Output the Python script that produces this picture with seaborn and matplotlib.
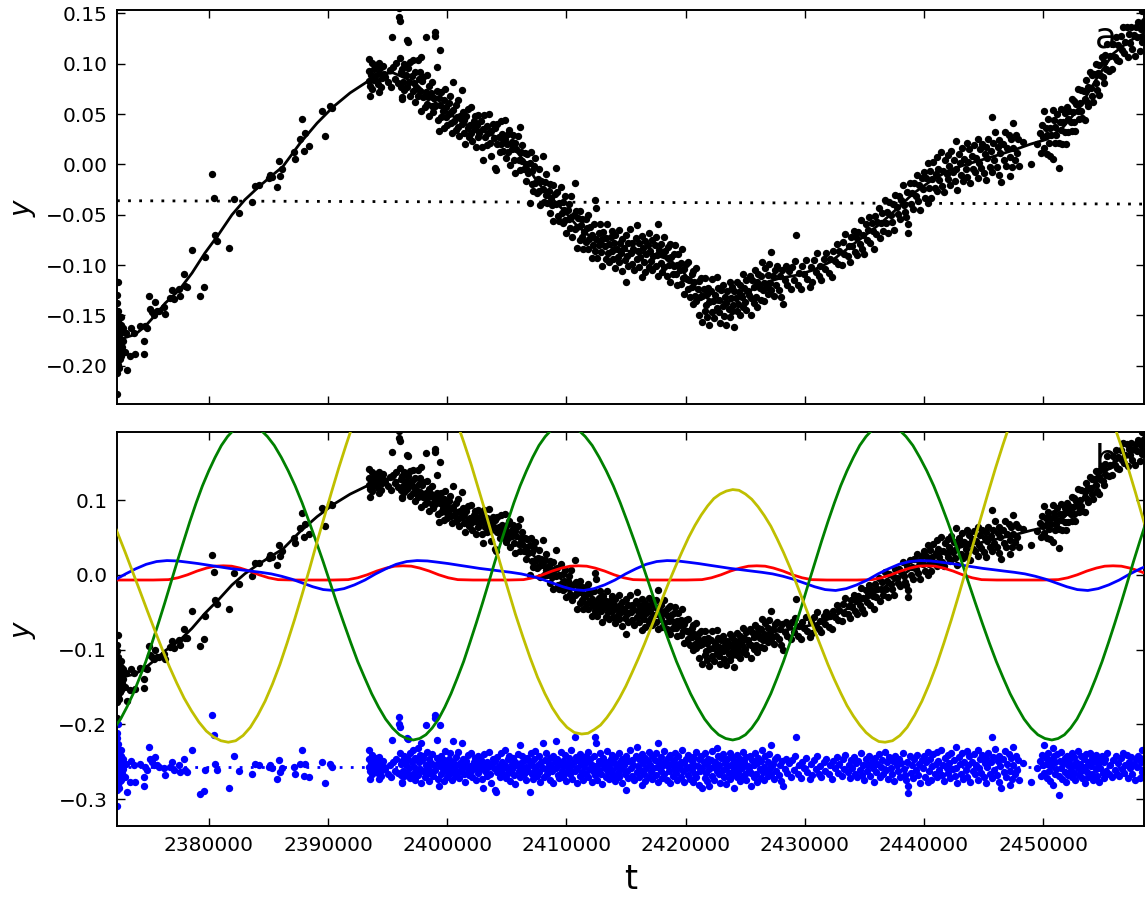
import numpy as np
import matplotlib
matplotlib.use("Agg")
import matplotlib.pyplot as plt
from matplotlib.ticker import MultipleLocator, ScalarFormatter
import seaborn as sns

# all times are in units of 100 days after T0
T0 = 2370000
T_RANGE = [22.8, 884.7]

# fitted model (black line, panel a)
fit_u = [22.8, 27.0, 37.9, 46.3, 54.7, 63.1, 74.8, 85.7, 96.6, 108.4,
         119.3, 130.2, 142.0, 152.9, 162.1, 176.4, 190.7, 204.1, 218.4, 232.6,
         246.0, 254.4, 266.2, 274.6, 285.5, 299.8, 313.2, 327.5, 341.8, 355.2,
         363.5, 375.3, 386.2, 397.1, 408.9, 422.3, 439.1, 455.9, 472.7, 487.0,
         497.9, 509.6, 518.0, 526.5, 537.3, 551.6, 565.0, 579.3, 593.5, 607.0,
         621.2, 635.5, 648.9, 663.2, 677.4, 690.9, 705.1, 719.4, 732.8, 747.1,
         761.4, 774.8, 789.1, 803.3, 816.8, 831.0, 845.3, 858.8, 873.0, 884.7]
fit_y = [-0.176, -0.173, -0.169, -0.161, -0.150, -0.138, -0.125, -0.108, -0.088, -0.069,
         -0.050, -0.035, -0.022, -0.011, -0.002, 0.021, 0.041, 0.057, 0.071, 0.082,
         0.090, 0.091, 0.085, 0.079, 0.066, 0.052, 0.041, 0.034, 0.027, 0.017,
         0.005, -0.017, -0.032, -0.045, -0.061, -0.074, -0.083, -0.087, -0.089, -0.095,
         -0.107, -0.124, -0.133, -0.137, -0.136, -0.127, -0.118, -0.113, -0.110, -0.105,
         -0.097, -0.084, -0.072, -0.059, -0.044, -0.029, -0.017, -0.007, -0.001, 0.004,
         0.009, 0.014, 0.020, 0.025, 0.037, 0.057, 0.086, 0.110, 0.123, 0.130]

# linear trend (dotted line, panel a)
trend_u = [22.8, 884.7]
trend_y = [-0.0361, -0.0394]

# periodic components (panel b)
green_u = [15.3, 20.6, 25.8, 31.1, 36.4, 41.7, 47.0, 52.2, 57.5, 62.8, 68.1, 73.4,
           78.7, 83.9, 89.2, 94.5, 99.8, 105.1, 110.4, 115.6, 120.9, 126.2, 131.5,
           137.3, 143.2, 149.0, 154.8, 160.7, 166.5, 172.3, 178.2, 184.0, 189.8, 195.7, 201.5,
           207.3, 213.2, 219.0, 224.8, 230.7, 236.5, 242.3, 248.2, 254.0, 259.8, 265.7, 271.5,
           276.8, 282.0, 287.3, 292.6, 297.9, 303.1, 308.4, 313.7, 318.9, 324.2, 329.5, 334.8,
           340.0, 345.3, 350.6, 355.8, 361.1, 366.4, 371.6, 376.9, 382.2, 387.5, 392.7, 398.0,
           403.9, 409.8, 415.7, 421.6, 427.5, 433.4, 439.3, 445.2, 451.1, 457.0, 462.9, 468.8,
           474.6, 480.5, 486.4, 492.3, 498.2, 504.1, 510.0, 515.9, 521.8, 527.7, 533.6, 539.5,
           544.8, 550.2, 555.5, 560.8, 566.1, 571.5, 576.8, 582.1, 587.5, 592.8, 598.1, 603.4,
           608.8, 614.1, 619.4, 624.8, 630.1, 635.4, 640.8, 646.1, 651.4, 656.7, 662.1, 667.4,
           673.2, 679.1, 684.9, 690.7, 696.5, 702.4, 708.2, 714.0, 719.9, 725.7, 731.5, 737.3,
           743.2, 749.0, 754.8, 760.7, 766.5, 772.3, 778.2, 784.0, 789.8, 795.6, 801.5, 807.3,
           812.6, 817.9, 823.1, 828.4, 833.7, 839.0, 844.3, 849.5, 854.8, 860.1, 865.4, 870.7,
           875.9, 881.2, 886.5]
green_y = [-0.214, -0.205, -0.193, -0.177, -0.159, -0.138, -0.116, -0.091, -0.065, -0.038, -0.010, 0.018,
           0.045, 0.071, 0.096, 0.119, 0.139, 0.157, 0.173, 0.185, 0.194, 0.199, 0.201,
           0.199, 0.194, 0.185, 0.173, 0.157, 0.139, 0.119, 0.096, 0.071, 0.045, 0.018, -0.010,
           -0.038, -0.065, -0.091, -0.116, -0.138, -0.159, -0.177, -0.193, -0.205, -0.214, -0.219, -0.221,
           -0.219, -0.214, -0.205, -0.193, -0.177, -0.159, -0.138, -0.116, -0.091, -0.065, -0.038, -0.010,
           0.018, 0.045, 0.071, 0.096, 0.119, 0.139, 0.157, 0.173, 0.185, 0.194, 0.199, 0.201,
           0.199, 0.194, 0.185, 0.173, 0.157, 0.139, 0.119, 0.096, 0.071, 0.045, 0.018, -0.010,
           -0.038, -0.065, -0.091, -0.116, -0.138, -0.159, -0.177, -0.193, -0.205, -0.214, -0.219, -0.221,
           -0.219, -0.214, -0.205, -0.193, -0.177, -0.159, -0.138, -0.116, -0.091, -0.065, -0.038, -0.010,
           0.018, 0.045, 0.071, 0.096, 0.119, 0.139, 0.157, 0.173, 0.185, 0.194, 0.199, 0.201,
           0.199, 0.194, 0.185, 0.173, 0.157, 0.139, 0.119, 0.096, 0.071, 0.045, 0.018, -0.010,
           -0.038, -0.065, -0.091, -0.116, -0.138, -0.159, -0.177, -0.193, -0.205, -0.214, -0.219, -0.221,
           -0.219, -0.214, -0.205, -0.193, -0.177, -0.159, -0.138, -0.116, -0.091, -0.065, -0.038, -0.010,
           0.018, 0.045, 0.071]

yellow_u = [11.2, 17.3, 23.5, 29.7, 35.9, 42.1, 48.2, 54.4, 60.6, 66.8, 73.0, 79.1,
            85.3, 91.5, 97.7, 103.9, 110.0, 116.2,
            122.4, 128.6, 134.7, 140.9, 147.1, 153.3, 159.5, 165.6, 171.8, 178.0, 184.2, 190.3,
            196.5, 202.7, 208.9, 215.1, 221.2, 227.4, 233.6, 239.8, 246.0, 252.1, 258.3, 264.5,
            270.7, 276.9, 283.0, 289.2, 295.4, 301.6, 307.8, 313.9, 320.1, 326.3, 332.5, 338.6,
            344.8, 351.0, 357.2, 363.4, 369.5, 375.7, 381.9, 388.1, 394.3, 400.4, 406.6, 412.8,
            418.1, 423.4, 428.6, 433.9, 439.2, 444.5, 449.8, 455.0, 460.3, 465.6, 470.9, 476.1,
            481.4, 486.7, 492.0, 497.3, 502.5, 507.8, 513.1, 518.4, 523.7, 528.9, 534.2, 539.5,
            544.8, 550.2, 555.5, 560.8, 566.1, 571.5, 576.8, 582.1, 587.5, 592.8, 598.1, 603.4,
            608.8, 614.1, 619.4, 624.8, 630.1, 635.4, 640.8, 646.1, 651.4, 656.7, 662.1, 667.4,
            673.6, 679.8, 685.9, 692.1, 698.3, 704.5, 710.7, 716.8, 723.0, 729.2, 735.4, 741.5,
            747.7, 753.9, 760.1, 766.3, 772.4, 778.6, 784.8, 791.0, 797.2, 803.3, 809.5, 815.7,
            821.9, 828.1, 834.2, 840.4, 846.6, 852.8, 859.0, 865.1, 871.3, 877.5, 883.7, 889.8]
yellow_y = [0.101, 0.079, 0.055, 0.030, 0.004, -0.022, -0.048, -0.074, -0.099, -0.123, -0.145, -0.165,
            -0.182, -0.197, -0.209, -0.217, -0.222, -0.224,
            -0.222, -0.215, -0.204, -0.188, -0.169, -0.146, -0.120, -0.091, -0.060, -0.027, 0.007, 0.042,
            0.076, 0.110, 0.143, 0.174, 0.203, 0.229, 0.252, 0.271, 0.287, 0.298, 0.305, 0.307,
            0.305, 0.298, 0.287, 0.272, 0.253, 0.231, 0.205, 0.177, 0.147, 0.114, 0.081, 0.047,
            0.013, -0.020, -0.053, -0.083, -0.111, -0.137, -0.159, -0.178, -0.193, -0.204, -0.211, -0.213,
            -0.212, -0.207, -0.201, -0.191, -0.179, -0.165, -0.149, -0.131, -0.112, -0.092, -0.071, -0.050,
            -0.028, -0.007, 0.013, 0.032, 0.050, 0.066, 0.080, 0.092, 0.102, 0.108, 0.112, 0.114,
            0.113, 0.108, 0.101, 0.091, 0.079, 0.065, 0.048, 0.030, 0.010, -0.011, -0.033, -0.055,
            -0.077, -0.099, -0.120, -0.140, -0.158, -0.175, -0.189, -0.201, -0.211, -0.218, -0.223, -0.224,
            -0.222, -0.215, -0.204, -0.188, -0.169, -0.146, -0.120, -0.091, -0.060, -0.027, 0.007, 0.042,
            0.076, 0.110, 0.143, 0.174, 0.203, 0.229, 0.252, 0.271, 0.287, 0.298, 0.305, 0.307,
            0.305, 0.298, 0.287, 0.271, 0.252, 0.229, 0.203, 0.174, 0.143, 0.110, 0.076, 0.042]

red_u = [22.8,
         53.2, 66.0, 74.0, 82.0, 90.0, 98.0, 105.0, 112.0, 119.0, 126.0, 134.0, 142.0, 150.0, 158.0, 170.8,
         204.0, 216.8, 224.8, 232.8, 240.8, 248.8, 255.8, 262.8, 269.8, 276.8, 284.8, 292.8, 300.8, 308.8, 321.6,
         351.2, 364.0, 372.0, 380.0, 388.0, 396.0, 403.0, 410.0, 417.0, 424.0, 432.0, 440.0, 448.0, 456.0, 468.8,
         500.9, 513.7, 521.7, 529.7, 537.7, 545.7, 552.7, 559.7, 566.7, 573.7, 581.7, 589.7, 597.7, 605.7, 618.5,
         643.6, 656.4, 664.4, 672.4, 680.4, 688.4, 695.4, 702.4, 709.4, 716.4, 724.4, 732.4, 740.4, 748.4, 761.2,
         799.9, 812.7, 820.7, 828.7, 836.7, 844.7, 851.7, 858.7, 865.7, 872.7, 880.7, 888.7]
red_y = [-0.007,
         -0.007, -0.0065, -0.004, 0.0, 0.005, 0.009, 0.0115, 0.012, 0.0115, 0.009, 0.005, 0.0, -0.004, -0.0065, -0.007,
         -0.007, -0.0065, -0.004, 0.0, 0.005, 0.009, 0.0115, 0.012, 0.0115, 0.009, 0.005, 0.0, -0.004, -0.0065, -0.007,
         -0.007, -0.0065, -0.004, 0.0, 0.005, 0.009, 0.0115, 0.012, 0.0115, 0.009, 0.005, 0.0, -0.004, -0.0065, -0.007,
         -0.007, -0.0065, -0.004, 0.0, 0.005, 0.009, 0.0115, 0.012, 0.0115, 0.009, 0.005, 0.0, -0.004, -0.0065, -0.007,
         -0.007, -0.0065, -0.004, 0.0, 0.005, 0.009, 0.0115, 0.012, 0.0115, 0.009, 0.005, 0.0, -0.004, -0.0065, -0.007,
         -0.007, -0.0065, -0.004, 0.0, 0.005, 0.009, 0.0115, 0.012, 0.0115, 0.009, 0.005, 0.0]

blue_u = [12.3, 21.0, 29.8, 38.5, 47.3, 56.0,
          64.7, 73.4, 82.2, 90.9, 99.7, 108.4, 117.2, 125.9, 134.7, 143.4, 152.2, 160.9,
          169.7, 178.4, 187.1, 195.9, 204.6, 213.4, 222.1, 230.9, 239.6, 248.4, 257.1, 265.9,
          274.6, 283.3, 292.1, 300.8, 309.6, 318.3, 327.1, 335.8, 344.5, 353.3, 362.0, 370.8,
          379.5, 388.2, 397.0, 405.7, 414.5, 423.2, 432.0, 440.7, 449.4, 458.2, 466.9, 475.7,
          484.4, 493.2, 502.1, 510.9, 519.8, 528.6, 537.5, 546.3, 555.2, 564.0, 572.9, 581.7,
          590.6, 599.4, 608.2, 617.1, 625.9, 634.8, 643.6, 652.5, 661.3, 670.2, 679.0, 687.9,
          696.7, 705.5, 714.3, 723.1, 731.9, 740.7, 749.5, 758.3, 767.1, 775.9, 784.7, 793.5,
          802.3, 811.1, 819.9, 828.7, 837.5, 846.3, 855.1, 863.9, 872.7, 881.5, 890.3]
blue_y = [-0.0135, -0.007, 0.001, 0.008, 0.014, 0.0177,
          0.019, 0.0185, 0.0168, 0.015, 0.0128, 0.0107, 0.0085, 0.0068, 0.005, 0.0033, 0.0012, -0.002,
          -0.006, -0.011, -0.016, -0.0198, -0.021, -0.0185, -0.0135, -0.007, 0.001, 0.008, 0.014, 0.0177,
          0.019, 0.0185, 0.0168, 0.015, 0.0128, 0.0107, 0.0085, 0.0068, 0.005, 0.0033, 0.0012, -0.002,
          -0.006, -0.011, -0.016, -0.0198, -0.021, -0.0185, -0.0135, -0.007, 0.001, 0.008, 0.014, 0.0177,
          0.019, 0.0185, 0.0168, 0.015, 0.0128, 0.0107, 0.0085, 0.0068, 0.005, 0.0033, 0.0012, -0.002,
          -0.006, -0.011, -0.016, -0.0198, -0.021, -0.0185, -0.0135, -0.007, 0.001, 0.008, 0.014, 0.0177,
          0.019, 0.0185, 0.0168, 0.015, 0.0128, 0.0107, 0.0085, 0.0068, 0.005, 0.0033, 0.0012, -0.002,
          -0.006, -0.011, -0.016, -0.0198, -0.021, -0.0185, -0.0135, -0.007, 0.001, 0.008, 0.014]

# observations: time and residual from the fitted model (units of 0.001)
obs_u = [
    23.0, 23.0, 23.0, 23.0, 23.0, 23.0, 23.0, 23.0, 23.5, 23.5,
    23.5, 23.5, 23.5, 23.5, 24.0, 24.0, 24.0, 24.0, 24.0, 24.0,
    24.6, 24.6, 24.6, 24.6, 24.6, 25.2, 25.2, 25.2, 25.2, 25.8,
    25.8, 25.8, 25.8, 26.5, 26.5, 26.5, 27.3, 27.3, 28.2, 28.2,
    29.3, 30.5, 31.6, 33.7, 34.8,
    36.8, 38.2, 42.4, 45.2, 45.2, 46.6, 48.0, 49.4, 50.8, 52.2,
    53.6, 55.0, 56.4, 57.8, 62.0, 63.4, 67.5, 68.9, 70.3, 74.5,
    75.9, 78.7, 80.1, 81.5, 85.7, 92.7, 95.5, 96.9, 102.5, 103.9,
    105.3, 106.7, 116.5, 120.7, 124.9, 136.1, 138.9, 141.7, 150.1, 151.5,
    152.9, 157.1, 158.5, 159.9, 161.3, 171.1, 172.5, 176.7, 178.1, 179.5,
    180.9, 183.7, 194.9, 197.6, 201.8, 203.2,
    234, 234, 234.5, 235, 235.4, 236, 236.8, 237, 238.2, 238.8,
    239.6, 240.2, 241, 241.8, 242.4, 242.4, 243, 243.8, 244.5, 245.2,
    246, 246.6, 247.5, 250, 251.5, 252.4, 253.3, 254.5, 256, 257.2,
    258.4, 259.5, 259.8, 260, 260.6, 260.8, 261.4, 261.7,
    262, 262, 263, 264, 264, 265, 266, 266, 267, 267,
    268, 269, 269, 270, 271, 271, 272, 273, 273, 274,
    275, 275, 276, 277, 277, 278, 278, 279, 280, 280,
    281, 282, 282, 283, 283, 284, 285, 285, 286, 287,
    287, 288, 289, 290, 290, 290, 291, 291, 292, 293,
    293, 294, 294, 295, 295, 296, 297, 297, 298, 299,
    299, 300, 301, 301, 302, 303, 303, 304, 305, 305,
    306, 307, 307, 308, 309, 309, 310, 311, 312, 312,
    313, 314, 314, 315, 316, 317, 317, 318, 319, 320,
    320, 321, 322, 323, 323, 324, 325, 326, 326, 327,
    328, 329, 330, 330, 331, 332, 333, 333, 334, 335,
    336, 337, 337, 338, 339, 340, 340, 341, 342, 342,
    343, 344, 345, 345, 346, 347, 348, 348, 349, 350,
    351, 351, 352, 353, 354, 354, 355, 356, 357, 357,
    358, 359, 360, 361, 361, 362, 363, 363, 364, 365,
    366, 366, 367, 368, 369, 369, 370, 371, 371, 372,
    373, 374, 374, 375, 376, 377, 377, 378, 379, 380,
    380, 381, 382, 383, 383, 384, 385, 386, 386, 387,
    388, 389, 389, 390, 391, 391, 392, 393, 394, 394,
    395, 396, 397, 397, 398, 399, 399, 400, 401, 402,
    402, 403, 404, 404, 405, 406, 407, 407, 408, 409,
    409, 410, 411, 411, 412, 413, 413, 414, 415, 416,
    416, 417, 418, 418, 419, 420, 421, 421, 422, 423,
    424, 424, 425, 425, 426, 427, 427, 428, 429, 430,
    430, 431, 432, 433, 433, 434, 435, 436, 436, 437,
    438, 438, 439, 440, 441, 441, 442, 443, 444, 444,
    445, 446, 447, 447, 448, 449, 450, 450, 451, 452,
    452, 453, 454, 455, 455, 456, 457, 458, 459, 459,
    460, 461, 461, 462, 463, 463, 464, 465, 466, 466,
    467, 468, 469, 469, 470, 471, 472, 472, 473, 474,
    475, 475, 476, 477, 477, 478, 479, 479, 480, 481,
    482, 482, 483, 484, 485, 485, 486, 487, 487, 488,
    489, 490, 490, 491, 492, 493, 493, 494, 495, 496,
    496, 497, 498, 499, 499, 500, 501, 502, 502, 503,
    504, 505, 505, 506, 506, 507, 508, 509, 509, 510,
    511, 511, 512, 513, 514, 514, 515, 516, 516, 517,
    518, 518, 519, 520, 520, 521, 522, 522, 523, 524,
    525, 526, 526, 527, 528, 528, 529, 530, 531, 531,
    532, 533, 534, 534, 535, 536, 537, 537, 538, 539,
    539, 540, 541, 541, 542, 543, 543, 544, 545, 546,
    546, 547, 548, 548, 549, 550, 551, 551, 552, 553,
    554, 555, 555, 556, 557, 557, 558, 559, 560, 560,
    561, 562, 563, 563, 564, 565, 566, 566, 567, 568,
    569, 569, 570, 571, 572, 572, 573, 574, 575, 576,
    577, 578, 579, 580, 581, 582, 583, 584, 585, 587,
    588, 589, 591, 592, 593, 594, 595, 597, 598, 599,
    601, 602, 604, 605, 606, 608, 609, 610, 612, 613,
    614, 616, 617, 618, 620, 621, 623, 624, 625, 627,
    628, 629, 631, 632, 633, 634, 636, 637, 638, 639,
    640, 641, 642, 643, 644, 645, 646, 647, 648, 649,
    650, 651, 652, 653, 654, 655, 656, 657, 658, 659,
    660, 661, 662, 663, 664, 665, 666, 667, 668, 669,
    670, 671, 672, 673, 674, 675, 676, 677, 678, 679,
    680, 681, 682, 683, 684, 685, 686, 687, 687, 688,
    689, 690, 691, 692, 693, 694, 695, 696, 697, 698,
    699, 700, 701, 702, 703, 703, 704, 705, 706, 707,
    708, 709, 710, 711, 711, 712, 713, 714, 715, 716,
    717, 718, 719, 720, 720, 721, 722, 723, 724, 725,
    726, 727, 727, 728, 729, 730, 731, 732, 733, 734,
    735, 736, 736, 737, 738, 739, 740, 741, 742, 743,
    744, 745, 745, 746, 747, 748, 749, 750, 751, 752,
    752, 753, 754, 755, 756, 757, 757, 758, 759, 760,
    761, 762, 763, 763, 764, 765, 766, 767, 768, 769,
    770, 771, 772, 772, 773, 774, 775, 775, 776, 777,
    778, 779, 780, 783, 790, 795, 797, 798, 799, 800,
    801, 801, 802, 803, 803, 804, 805, 806, 806, 807,
    808, 808, 809, 810, 810, 811, 812, 813, 813, 814,
    815, 815, 816, 817, 818, 818, 819, 820, 821, 821,
    822, 823, 824, 824, 825, 826, 826, 827, 828, 829,
    829, 830, 831, 832, 832, 833, 834, 835, 835, 836,
    837, 838, 838, 839, 840, 841, 841, 842, 843, 844,
    844, 845, 846, 847, 847, 848, 849, 850, 851, 851,
    852, 853, 854, 855, 856, 858, 859, 860, 861, 862,
    863, 864, 865, 866, 867, 868, 869, 870, 871, 872,
    873, 874, 875, 876, 877, 878, 879, 880, 881, 882,
    883, 883, 884, 884, 884.7,
]
obs_r = [
    46, 38, 25, 12, -3, -18, -31, -52, 30, 15,
    5, -8, -14, -24, 20, 9, -2, -11, -20, 58,
    16, 3, -6, -15, -28, 12, 0, -9, -19, 22,
    7, -4, -12, 14, -1, -17, 6, -8, 10, -3,
    -14, 4, -33, -20, 8,
    2, -20, 4, -13, -26, 0, -4, 26, 11, 7,
    2, 13, 2, 0, -2, -11, 0, 7, -4, 2,
    -7, 10, -4, -7, 23, -36, -32, -4, 69, 43,
    4, -4, -28, 14, -6, -9, 4, 2, 0, 2,
    -2, -16, 9, -7, -2, 0, -9, 4, 22, -12,
    4, -13, 7, -21, 4, 0,
    22, 0, 10, -6, -16, 5, 16, -10, 9, -2,
    2, 12, -4, -8, 13, -16, 3, 7, -12, -4,
    8, 0, -3, -9, 3, -14, 36, 6, -5, 11,
    -8, 67, 58, 54, 18, 4, -11, -22,
    -20, 8, -5, 14, -12, 3, 38, -8, 37, 11,
    -2, 19, -15, 6, -9, 22, 0, -18, 12, -4,
    25, -11, 7, -3, 16, 32, -22, 9, -6, 14,
    -14, 2, 56, 20, -9, -1, 11, -19, 5, -7,
    17, -12, 3, 70, 66, -4, 36, 12, -16, 7,
    -25, 56, 1, 15, -10, -3, 9, -19, 21, -6,
    4, -13, 10, -1, 18, -8, 3, -17, 34, 6,
    -4, 13, -12, 2, -7, 20, -15, 5, 32, -2,
    11, -9, 3, -20, 8, -3, 16, -11, 1, -6,
    19, -14, 6, -1, 12, -18, 4, -8, 14, -3,
    9, -16, -28, 2, 17, -5, 7, -12, 0, 20,
    -9, 4, -21, 11, -2, -31, 8, -33, -7, 13,
    1, -13, 18, -4, 6, -10, 3, 22, -15, -1,
    10, -8, 15, -19, 4, -3, 12, -11, 7, -23,
    2, 17, -6, 29, -14, 5, -2, 14, -9, 9,
    -17, 0, 12, -5, -33, 7, 19, -10, 2, -16,
    11, -4, 21, -12, 3, -7, 15, -20, 6, -1,
    32, -13, 9, -3, 18, -9, 4, -17, 12, 0,
    -6, 15, -21, 7, -2, 34, 11, -11, 3, -15,
    20, -5, 8, -13, 1, 16, -8, -19, 5, 12,
    -3, -10, 23, 2, -16, 7, 40, -6, 13, -1,
    -22, 9, -12, 17, 4, -7, 11, -18, 0, 14,
    -9, 6, -14, 20, -3, 10, -20, 3, -6, 15,
    40, -11, 32, 1, -17, 8, -4, 18, -9, 4,
    -23, 12, -2, -14, 7, 21, -7, 2, -16, 10,
    -4, 16, -11, 5, -19, 13, 0, -8, 19, -13,
    6, -3, 11, -21, 2, -10, -31, 15, -5, 8,
    -15, 22, -1, -12, 9, 3, -18, 14, 27, -7,
    1, -14, 10, -4, -24, 17, 5, -9, 12, -19,
    -1, 8, -13, 20, 3, -7, 14, -16, -2, 9,
    -11, 18, 0, 32, -20, 6, -6, 13, -15, 3,
    -9, 21, 7, -17, 1, 12, -5, -22, 16, 4,
    -12, 9, -3, 19, -8, 2, -18, 14, -1, 7,
    -14, 22, -6, 5, -20, 11, -2, -11, 16, 0,
    -16, 8, -4, -20, 13, 3, -9, 20, -13, 1,
    -24, 10, -5, 15, -28, -2, 6, -15, 18, -8,
    4, -19, 11, -26, -3, 9, -12, 21, 0, -17,
    7, 25, -6, 14, -10, 2, -21, 12, -4, 17,
    -14, 5, -1, -23, 10, -8, 19, -16, 3, -11,
    13, -5, -28, 8, 0, -13, 16, -7, 4, -19,
    11, -2, 20, -12, 6, -9, -17, 13, 1, -4,
    15, -25, -8, 9, -14, 2, 18, -10, 5, -20,
    12, -3, -15, 8, 22, -7, 0, -18, 14, -5,
    7, -12, 17, -2, 29, -9, 4, -16, 10, -6,
    13, -11, 2, -19, 8, -26, -3, 11, -8, 5,
    -13, 9, -4, 14, 40, -10, 2, -15, 7, -1,
    12, -7, -16, 4, -11, 9, -3, 15, -9, 1,
    -14, 6, -5, 11, -10, 3, -16, 8, -2, 13,
    -8, 4, -12, 10, -3, 16, -7, 2, -15, 9,
    -1, 13, -9, 5, -14, 8, -4, 18, -11, 2,
    -18, 11, -6, 3, 15, -12, 7, -2, -20, 12,
    -7, 4, 17, -14, 0, 9, -10, 20, -4, 6,
    -16, 13, -1, -9, 8, -19, 15, 2, -6, 11,
    -13, 5, 18, -3, -11, -17, 7, -35, -26, 14,
    -8, 2, -15, 10, -4, 16, -11, 4, -21, 9,
    -2, 14, -13, 6, -20, 20, -6, 11, -17, 1,
    17, -9, 4, 20, -14, 8, -4, 23, -11, 3,
    -19, 12, -2, 16, -8, 5, -15, 19, -3, 9,
    -12, 27, -1, -22, 13, 4, -9, 18, -16, 6,
    -4, 21, -13, 2, 14, -20, 7, -6, 17, -10,
    3, 22, -17, -2, 11, -8, 16, -14, 5, -21,
    12, 0, 19, -9, 6, 40, -15, 13, -4, 24,
    -11, 8, -20, 15, 1, -28, 10, -7, 21, -13,
    4, 17, -24, -6, 12, -16, 27, 2, -10, 14,
    -4, 9, -18, 5, -20, -2, 8, -12, 16, 3,
    29, -8, 12, -15, 4, 19, -5, 9, -19, 1,
    25, -24, 14, -10, 6, -3, 17, -37, -12, 8,
    -1, 20, -16, 5, 12, -7, -20, 15, 2, -11,
    9, -4, 18, -14, 3, -8, 13, -18, 7, -1,
    21, -11, 4, -6, 15, -15, 10, 0, -21, 17,
    -7, 6, -13, 19, 1, -9, 12, -17, 8, -3,
    16, -12, 4, -20, 10, -2, 14, -8, 6, -15,
    11, -5, 18, -10, 3, -14, 9, -4, 15, -9,
    5, -12, 12, -3, 19, -8, 2, 16, -15, 7,
    -2, 13, -10, 4, -18, 10, 0, 14, -15, 6,
    23, -7, 9, -4, 12,
]

# residuals are shown shifted down in panel b
resid_offset = -0.257

BLACK = (0, 0, 0)
RED = (1, 0, 0)
BLUE = (0, 0, 1)
GREEN = (0, 0.5, 0)
YELLOW = (0.75, 0.75, 0)


def to_t(u):
    return T0 + 100.0 * np.asarray(u, dtype=float)


def main():
    assert len(obs_u) == len(obs_r)
    assert len(green_u) == len(green_y) and len(yellow_u) == len(yellow_y)
    assert len(red_u) == len(red_y) and len(blue_u) == len(blue_y)

    sns.set_theme(style="white")
    plt.rcParams.update({
        "font.family": ["DejaVu Sans"],
        "mathtext.fontset": "dejavusans",
        "text.color": "black",
        "axes.labelcolor": "black",
        "axes.edgecolor": "black",
        "axes.linewidth": 1.4,
        "xtick.direction": "in",
        "ytick.direction": "in",
        "xtick.top": True,
        "ytick.right": True,
        "xtick.bottom": True,
        "ytick.left": True,
        "xtick.major.size": 6,
        "ytick.major.size": 6,
        "xtick.major.width": 1,
        "ytick.major.width": 1,
        "xtick.major.pad": 7,
        "ytick.major.pad": 7,
        "xtick.labelsize": 14.5,
        "ytick.labelsize": 14.5,
        "xtick.color": "black",
        "ytick.color": "black",
    })

    obs_t = to_t(obs_u)
    res = np.array(obs_r) / 1000.0
    obs_y = np.interp(obs_u, fit_u, fit_y) + res
    obs_detr = obs_y - np.interp(obs_u, trend_u, trend_y)
    fit_detr = np.array(fit_y) - np.interp(fit_u, trend_u, trend_y)

    fig = plt.figure(figsize=(11.46, 8.97), dpi=100)
    ax1 = fig.add_axes([0.1021, 0.5496, 0.8962, 0.4392])
    ax2 = fig.add_axes([0.1021, 0.0792, 0.8962, 0.4392], sharex=ax1)

    dotted = (0, (1, 3))
    pts = dict(s=28, linewidth=0)
    line = dict(linewidth=2, sort=False, estimator=None, zorder=3)

    # panel a
    ax1.text(0.952, 0.905, "a", transform=ax1.transAxes, fontsize=26, zorder=1)
    sns.scatterplot(x=obs_t, y=obs_y, color=BLACK, ax=ax1, zorder=2, **pts)
    sns.lineplot(x=to_t(fit_u), y=fit_y, color=BLACK, ax=ax1, **line)
    sns.lineplot(x=to_t(trend_u), y=trend_y, color=BLACK, linestyle=dotted, ax=ax1, **line)

    # panel b
    ax2.text(0.952, 0.905, "b", transform=ax2.transAxes, fontsize=26, zorder=1)
    sns.scatterplot(x=obs_t, y=obs_detr, color=BLACK, ax=ax2, zorder=2, **pts)
    sns.scatterplot(x=obs_t, y=res + resid_offset, color=BLUE, ax=ax2, zorder=2, **pts)
    ax2.axhline(resid_offset, color=BLUE, lw=2, linestyle=dotted, zorder=2)
    sns.lineplot(x=to_t(fit_u), y=fit_detr, color=BLACK, ax=ax2, **line)
    sns.lineplot(x=to_t(red_u), y=red_y, color=RED, ax=ax2, **line)
    sns.lineplot(x=to_t(blue_u), y=blue_y, color=BLUE, ax=ax2, **line)
    sns.lineplot(x=to_t(green_u), y=green_y, color=GREEN, ax=ax2, **line)
    sns.lineplot(x=to_t(yellow_u), y=yellow_y, color=YELLOW, ax=ax2, **line)

    ax1.set_xlim(to_t(T_RANGE))
    ax1.set_ylim(-0.238, 0.1533)
    ax2.set_ylim(-0.336, 0.191)
    ax1.xaxis.set_major_locator(MultipleLocator(10000))
    ax1.yaxis.set_major_locator(MultipleLocator(0.05))
    ax2.yaxis.set_major_locator(MultipleLocator(0.1))
    fmt = ScalarFormatter(useOffset=False)
    fmt.set_scientific(False)
    ax2.xaxis.set_major_formatter(fmt)
    ax1.tick_params(labelbottom=False)

    for ax in (ax1, ax2):
        ax.set_ylabel("$y$", fontsize=20)
        ax.yaxis.set_label_coords(-0.077, 0.5)
        for sp in ax.spines.values():
            sp.set_visible(True)
            sp.set_color("black")
    ax1.set_xlabel("")
    ax2.set_xlabel("t", fontsize=24, labelpad=6)

    fig.savefig("out.png", dpi=100, facecolor="white")


if __name__ == "__main__":
    main()
